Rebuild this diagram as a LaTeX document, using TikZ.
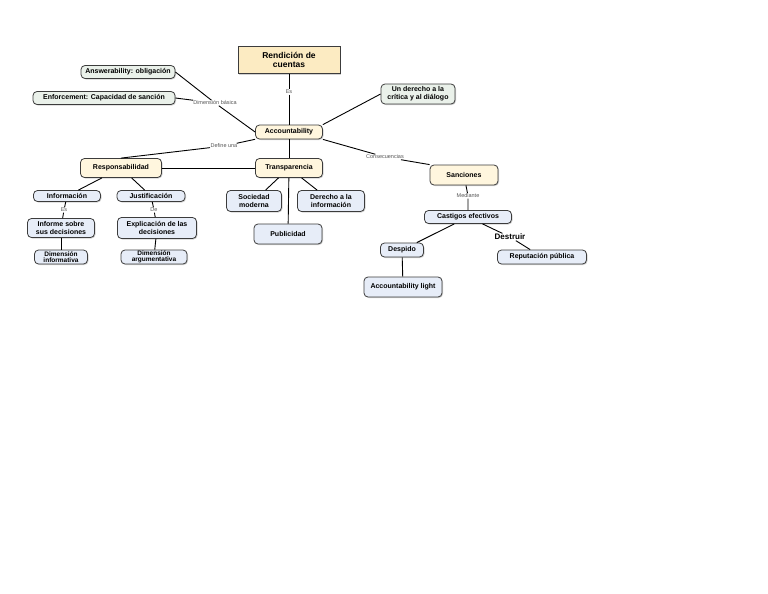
\documentclass[tikz,border=0pt]{standalone}
\usepackage{fontspec}
\setmainfont{Liberation Sans}
\usepackage{tikz}
\usetikzlibrary{shadows}
\definecolor{MapCream}{HTML}{FFF6DE}
\definecolor{MapGold}{HTML}{FCEBC2}
\definecolor{MapMint}{HTML}{EAF1EA}
\definecolor{MapSky}{HTML}{E7EDF8}
\definecolor{MapEdge}{HTML}{3C3C3C}
\definecolor{MapLabel}{HTML}{555555}

\begin{document}
\begin{tikzpicture}[
    x=1pt, y=-1pt,
    concept/.style={draw=MapEdge, line width=0.8pt, rounded corners=4pt,
      align=center, inner sep=0.5pt, font=\fontsize{7}{7.6}\selectfont\bfseries,
      drop shadow={shadow xshift=1pt, shadow yshift=-1pt, opacity=0.35}},
    hub/.style={concept, fill=MapCream},
    mint/.style={concept, fill=MapMint},
    sky/.style={concept, fill=MapSky},
    phrase/.style={fill=white, inner sep=0.5pt, text=MapLabel,
      font=\fontsize{5.5}{6}\selectfont},
    link/.style={line width=0.9pt}
  ]
  \useasboundingbox[fill=white] (0,0) rectangle (768,594);

  % top
  \node[concept, rounded corners=0pt, fill=MapGold, minimum width=102pt, minimum height=27pt,
    font=\fontsize{8.5}{9}\selectfont\bfseries] (rendicion) at (289,60) {Rendición de\\cuentas};
  \node[hub, minimum width=67pt, minimum height=14pt] (account) at (289,132) {Accountability};
  \node[mint, minimum width=94pt, minimum height=13pt] (answer) at (128,72) {Answerability: obligación};
  \node[mint, minimum width=142pt, minimum height=13pt] (enforce) at (104,98) {Enforcement: Capacidad de sanción};
  \node[mint, minimum width=74pt, minimum height=20pt] (critica) at (418,94) {Un derecho a la\\crítica y al diálogo};

  % second level
  \node[hub, minimum width=81pt, minimum height=19pt] (respons) at (121,168) {Responsabilidad};
  \node[hub, minimum width=67pt, minimum height=19pt] (transp) at (289,168) {Transparencia};
  \node[hub, minimum width=68pt, minimum height=20pt] (sancion) at (464,175) {Sanciones};

  % responsabilidad
  \node[sky, minimum width=67pt, minimum height=11pt] (info) at (67,196) {Información};
  \node[sky, minimum width=68pt, minimum height=11pt] (justif) at (151,196) {Justificación};
  \node[sky, minimum width=67pt, minimum height=19pt] (informe) at (61,228) {Informe sobre\\sus decisiones};
  \node[sky, minimum width=79pt, minimum height=21pt] (explic) at (157,228) {Explicación de las\\decisiones};
  \node[sky, minimum width=53pt, minimum height=14pt, font=\fontsize{6.5}{6.6}\selectfont\bfseries] (diminfo) at (61,257) {Dimensión\\informativa};
  \node[sky, minimum width=66pt, minimum height=14pt, font=\fontsize{6.5}{6.6}\selectfont\bfseries] (dimarg) at (154,257) {Dimensión\\argumentativa};

  % transparencia
  \node[sky, minimum width=55pt, minimum height=21pt] (sociedad) at (254,201) {Sociedad\\moderna};
  \node[sky, minimum width=67pt, minimum height=21pt] (derecho) at (331,201) {Derecho a la\\información};
  \node[sky, minimum width=68pt, minimum height=20pt] (public) at (288,234) {Publicidad};

  % sanciones
  \node[sky, minimum width=87pt, minimum height=13pt] (castigo) at (468,217) {Castigos efectivos};
  \node[sky, minimum width=43pt, minimum height=14pt] (despido) at (402,250) {Despido};
  \node[sky, minimum width=78pt, minimum height=20pt] (light) at (403,287) {Accountability light};
  \node[sky, minimum width=89pt, minimum height=14pt] (reput) at (542,257) {Reputación pública};

  % linking phrases
  \node[phrase] (es1) at (289,92) {Es};
  \node[phrase] (basica) at (215,103) {Dimensión básica};
  \node[phrase] (define) at (224,146) {Define una};
  \node[phrase] (conse) at (385,157) {Consecuencias};
  \node[phrase] (es2) at (64,210) {Es};
  \node[phrase] (de) at (154,210) {De};
  \node[phrase] (mediante) at (468,196) {Mediante};
  \node[fill=white, inner sep=0.5pt, font=\fontsize{8}{8.5}\selectfont\bfseries] (destruir) at (510,237) {Destruir};

  % links
  \draw[link] (rendicion) -- (es1) -- (account);
  \draw[link] (answer.east) -- (basica);
  \draw[link] (enforce.east) -- (basica);
  \draw[link] (basica) -- (account.west);
  \draw[link] (critica.west) -- (account.north east);
  \draw[link] (account) -- (define) -- (respons.north);
  \draw[link] (account) -- (transp);
  \draw[link] (respons) -- (transp);
  \draw[link] (account.south east) -- (conse) -- (sancion.north west);
  \draw[link] (respons) -- (info);
  \draw[link] (respons) -- (justif);
  \draw[link] (info) -- (es2) -- (informe);
  \draw[link] (justif) -- (de) -- (explic);
  \draw[link] (informe) -- (diminfo);
  \draw[link] (explic) -- (dimarg);
  \draw[link] (transp) -- (sociedad);
  \draw[link] (transp) -- (derecho);
  \draw[link] (transp) -- (public);
  \draw[link] (sancion) -- (mediante) -- (castigo);
  \draw[link] (castigo) -- (despido);
  \draw[link] (castigo) -- (destruir) -- (reput);
  \draw[link] (despido) -- (light);
\end{tikzpicture}
\end{document}
